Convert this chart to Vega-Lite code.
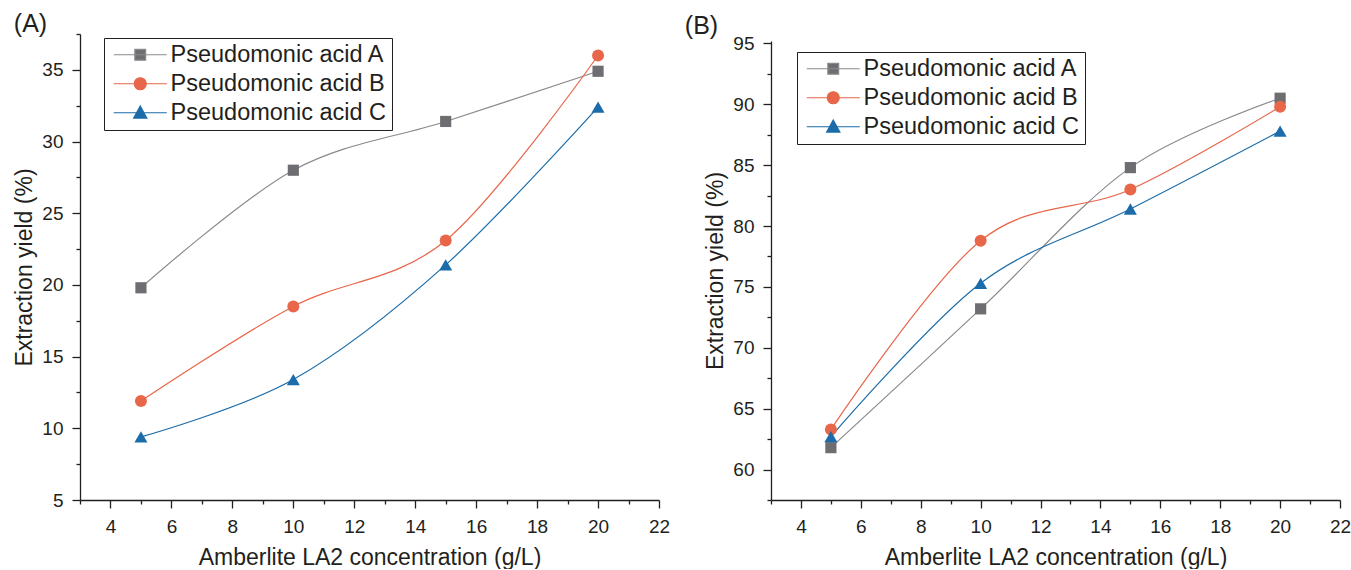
{
  "$schema": "https://vega.github.io/schema/vega-lite/v6.json",
  "background": "white",
  "padding": {"left": 13, "top": 12, "right": 0, "bottom": 0},
  "spacing": 14,
  "config": {
    "view": {"stroke": null},
    "font": "Liberation Sans",
    "axis": {
      "grid": false,
      "domainColor": "#231f20",
      "tickColor": "#231f20",
      "labelColor": "#231f20",
      "titleColor": "#231f20",
      "domainWidth": 1.3,
      "tickWidth": 1.3,
      "labelFont": "Liberation Sans",
      "titleFont": "Liberation Sans",
      "labelFontSize": 19,
      "titleFontSize": 23,
      "titleFontWeight": "normal",
      "labelOverlap": false,
      "labelFlush": false,
      "labelBound": false
    }
  },
  "datasets": {
    "panelA": [
      {"series": "Pseudomonic acid A", "conc": 5, "yield": 19.8},
      {"series": "Pseudomonic acid A", "conc": 10, "yield": 28.0},
      {"series": "Pseudomonic acid A", "conc": 15, "yield": 31.4},
      {"series": "Pseudomonic acid A", "conc": 20, "yield": 34.9},
      {"series": "Pseudomonic acid B", "conc": 5, "yield": 11.9},
      {"series": "Pseudomonic acid B", "conc": 10, "yield": 18.5},
      {"series": "Pseudomonic acid B", "conc": 15, "yield": 23.1},
      {"series": "Pseudomonic acid B", "conc": 20, "yield": 36.0},
      {"series": "Pseudomonic acid C", "conc": 5, "yield": 9.4},
      {"series": "Pseudomonic acid C", "conc": 10, "yield": 13.4},
      {"series": "Pseudomonic acid C", "conc": 15, "yield": 21.4},
      {"series": "Pseudomonic acid C", "conc": 20, "yield": 32.4}
    ],
    "panelB": [
      {"series": "Pseudomonic acid A", "conc": 5, "yield": 61.8},
      {"series": "Pseudomonic acid A", "conc": 10, "yield": 73.2},
      {"series": "Pseudomonic acid A", "conc": 15, "yield": 84.8},
      {"series": "Pseudomonic acid A", "conc": 20, "yield": 90.5},
      {"series": "Pseudomonic acid B", "conc": 5, "yield": 63.3},
      {"series": "Pseudomonic acid B", "conc": 10, "yield": 78.8},
      {"series": "Pseudomonic acid B", "conc": 15, "yield": 83.0},
      {"series": "Pseudomonic acid B", "conc": 20, "yield": 89.8},
      {"series": "Pseudomonic acid C", "conc": 5, "yield": 62.7},
      {"series": "Pseudomonic acid C", "conc": 10, "yield": 75.3},
      {"series": "Pseudomonic acid C", "conc": 15, "yield": 81.4},
      {"series": "Pseudomonic acid C", "conc": 20, "yield": 87.8}
    ]
  },
  "resolve": {
    "scale": {"x": "independent", "y": "independent", "fill": "independent", "stroke": "independent", "shape": "independent"},
    "legend": {"fill": "independent", "stroke": "independent", "shape": "independent"}
  },
  "hconcat": [
    {
      "title": {"text": "(A)", "anchor": "start", "frame": "bounds", "fontSize": 25, "fontWeight": "normal", "font": "Liberation Sans", "color": "#231f20", "dy": 16},
      "width": 579,
      "height": 466,
      "data": {"name": "panelA"},
      "encoding": {
        "x": {
          "field": "conc", "type": "quantitative",
          "scale": {"domain": [3, 22], "nice": false, "zero": false},
          "axis": {
            "title": "Amberlite LA2 concentration (g/L)",
            "titlePadding": 10,
            "values": [3, 4, 5, 6, 7, 8, 9, 10, 11, 12, 13, 14, 15, 16, 17, 18, 19, 20, 21, 22],
            "format": "d",
            "labelExpr": "datum.value % 2 === 0 ? datum.label : ''",
            "tickSize": {"condition": {"test": "datum.value % 2 === 0", "value": 8}, "value": 4},
            "labelPadding": 9
          }
        },
        "y": {
          "field": "yield", "type": "quantitative",
          "scale": {"domain": [5, 37.5], "nice": false, "zero": false},
          "axis": {
            "title": "Extraction yield (%)",
            "titlePadding": 5,
            "values": [5, 7.5, 10, 12.5, 15, 17.5, 20, 22.5, 25, 27.5, 30, 32.5, 35, 37.5],
            "format": "d",
            "labelExpr": "datum.value % 5 === 0 ? datum.label : ''",
            "tickSize": {"condition": {"test": "datum.value % 5 === 0", "value": 8}, "value": 4},
            "labelPadding": 9
          }
        }
      },
      "layer": [
        {
          "transform": [{"filter": "false"}],
          "mark": {"type": "point", "filled": true, "opacity": 1, "strokeWidth": 1.2},
          "encoding": {
            "fill": {
              "field": "series", "type": "nominal",
              "scale": {"domain": ["Pseudomonic acid A", "Pseudomonic acid B", "Pseudomonic acid C"], "range": ["#6e6e72", "#e8664a", "#1b6ca8"]},
              "legend": {"title": null, "orient": "none", "legendX": 24, "legendY": 4, "strokeColor": "#231f20", "fillColor": "white", "padding": 5, "symbolSize": 144, "symbolStrokeWidth": 1.2, "symbolOpacity": 1, "labelOffset": 38, "labelFontSize": 23.5, "labelFont": "Liberation Sans", "labelColor": "#231f20", "labelLimit": 0, "rowPadding": 4}
            },
            "stroke": {
              "field": "series", "type": "nominal",
              "scale": {"domain": ["Pseudomonic acid A", "Pseudomonic acid B", "Pseudomonic acid C"], "range": ["#8a8a8d", "#e8664a", "#1b6ca8"]},
              "legend": {"title": null, "orient": "none", "legendX": 24, "legendY": 4, "strokeColor": "#231f20", "fillColor": "white", "padding": 5, "symbolSize": 144, "symbolStrokeWidth": 1.2, "symbolOpacity": 1, "labelOffset": 38, "labelFontSize": 23.5, "labelFont": "Liberation Sans", "labelColor": "#231f20", "labelLimit": 0, "rowPadding": 4}
            },
            "shape": {
              "field": "series", "type": "nominal",
              "scale": {"domain": ["Pseudomonic acid A", "Pseudomonic acid B", "Pseudomonic acid C"], "range": ["M-1.17,0H7.67M2.35,-0.9H4.15V0.9H2.35Z", "M-1.17,0H7.67M2.25,0A1,1,0,1,0,4.25,0A1,1,0,1,0,2.25,0Z", "M-1.17,0H7.67M3.25,-1.12L4.35,0.88L2.15,0.88Z"]},
              "legend": {"title": null, "orient": "none", "legendX": 24, "legendY": 4, "strokeColor": "#231f20", "fillColor": "white", "padding": 5, "symbolSize": 144, "symbolStrokeWidth": 1.2, "symbolOpacity": 1, "labelOffset": 38, "labelFontSize": 23.5, "labelFont": "Liberation Sans", "labelColor": "#231f20", "labelLimit": 0, "rowPadding": 4}
            }
          }
        },
        {
          "transform": [{"filter": "datum.series === 'Pseudomonic acid A'"}],
          "mark": {"type": "line", "interpolate": "cardinal", "tension": 0, "strokeWidth": 1.2, "color": "#8a8a8d"},
          "encoding": {}
        },
        {
          "transform": [{"filter": "datum.series === 'Pseudomonic acid B'"}],
          "mark": {"type": "line", "interpolate": "cardinal", "tension": 0, "strokeWidth": 1.2, "color": "#e8664a"},
          "encoding": {}
        },
        {
          "transform": [{"filter": "datum.series === 'Pseudomonic acid C'"}],
          "mark": {"type": "line", "interpolate": "cardinal", "tension": 0, "strokeWidth": 1.2, "color": "#1b6ca8"},
          "encoding": {}
        },
        {
          "transform": [{"filter": "datum.series === 'Pseudomonic acid A'"}],
          "mark": {"type": "point", "shape": "square", "filled": true, "opacity": 1, "size": 125, "color": "#6e6e72"},
          "encoding": {}
        },
        {
          "transform": [{"filter": "datum.series === 'Pseudomonic acid B'"}],
          "mark": {"type": "point", "shape": "circle", "filled": true, "opacity": 1, "size": 144, "color": "#e8664a"},
          "encoding": {}
        },
        {
          "transform": [{"filter": "datum.series === 'Pseudomonic acid C'"}],
          "mark": {"type": "point", "shape": "triangle-up", "filled": true, "opacity": 1, "size": 170, "color": "#1b6ca8"},
          "encoding": {}
        }
      ]
    },
    {
      "title": {"text": "(B)", "anchor": "start", "frame": "bounds", "fontSize": 25, "fontWeight": "normal", "font": "Liberation Sans", "color": "#231f20", "dy": 9, "dx": -20},
      "width": 569,
      "height": 466,
      "data": {"name": "panelB"},
      "encoding": {
        "x": {
          "field": "conc", "type": "quantitative",
          "scale": {"domain": [3, 22], "nice": false, "zero": false},
          "axis": {
            "title": "Amberlite LA2 concentration (g/L)",
            "titlePadding": 10,
            "values": [3, 4, 5, 6, 7, 8, 9, 10, 11, 12, 13, 14, 15, 16, 17, 18, 19, 20, 21, 22],
            "format": "d",
            "labelExpr": "datum.value % 2 === 0 ? datum.label : ''",
            "tickSize": {"condition": {"test": "datum.value % 2 === 0", "value": 8}, "value": 4},
            "labelPadding": 9
          }
        },
        "y": {
          "field": "yield", "type": "quantitative",
          "scale": {"domain": [57.5, 95.2], "range": [466, 7], "nice": false, "zero": false},
          "axis": {
            "title": "Extraction yield (%)",
            "titlePadding": 5,
            "values": [57.5, 60, 62.5, 65, 67.5, 70, 72.5, 75, 77.5, 80, 82.5, 85, 87.5, 90, 92.5, 95],
            "format": "d",
            "labelExpr": "datum.value % 5 === 0 ? datum.label : ''",
            "tickSize": {"condition": {"test": "datum.value % 5 === 0", "value": 8}, "value": 4},
            "labelPadding": 9
          }
        }
      },
      "layer": [
        {
          "transform": [{"filter": "false"}],
          "mark": {"type": "point", "filled": true, "opacity": 1, "strokeWidth": 1.2},
          "encoding": {
            "fill": {
              "field": "series", "type": "nominal",
              "scale": {"domain": ["Pseudomonic acid A", "Pseudomonic acid B", "Pseudomonic acid C"], "range": ["#6e6e72", "#e8664a", "#1b6ca8"]},
              "legend": {"title": null, "orient": "none", "legendX": 26, "legendY": 18, "strokeColor": "#231f20", "fillColor": "white", "padding": 5, "symbolSize": 144, "symbolStrokeWidth": 1.2, "symbolOpacity": 1, "labelOffset": 38, "labelFontSize": 23.5, "labelFont": "Liberation Sans", "labelColor": "#231f20", "labelLimit": 0, "rowPadding": 4}
            },
            "stroke": {
              "field": "series", "type": "nominal",
              "scale": {"domain": ["Pseudomonic acid A", "Pseudomonic acid B", "Pseudomonic acid C"], "range": ["#8a8a8d", "#e8664a", "#1b6ca8"]},
              "legend": {"title": null, "orient": "none", "legendX": 26, "legendY": 18, "strokeColor": "#231f20", "fillColor": "white", "padding": 5, "symbolSize": 144, "symbolStrokeWidth": 1.2, "symbolOpacity": 1, "labelOffset": 38, "labelFontSize": 23.5, "labelFont": "Liberation Sans", "labelColor": "#231f20", "labelLimit": 0, "rowPadding": 4}
            },
            "shape": {
              "field": "series", "type": "nominal",
              "scale": {"domain": ["Pseudomonic acid A", "Pseudomonic acid B", "Pseudomonic acid C"], "range": ["M-1.17,0H7.67M2.35,-0.9H4.15V0.9H2.35Z", "M-1.17,0H7.67M2.25,0A1,1,0,1,0,4.25,0A1,1,0,1,0,2.25,0Z", "M-1.17,0H7.67M3.25,-1.12L4.35,0.88L2.15,0.88Z"]},
              "legend": {"title": null, "orient": "none", "legendX": 26, "legendY": 18, "strokeColor": "#231f20", "fillColor": "white", "padding": 5, "symbolSize": 144, "symbolStrokeWidth": 1.2, "symbolOpacity": 1, "labelOffset": 38, "labelFontSize": 23.5, "labelFont": "Liberation Sans", "labelColor": "#231f20", "labelLimit": 0, "rowPadding": 4}
            }
          }
        },
        {
          "transform": [{"filter": "datum.series === 'Pseudomonic acid A'"}],
          "mark": {"type": "line", "interpolate": "cardinal", "tension": 0, "strokeWidth": 1.2, "color": "#8a8a8d"},
          "encoding": {}
        },
        {
          "transform": [{"filter": "datum.series === 'Pseudomonic acid B'"}],
          "mark": {"type": "line", "interpolate": "cardinal", "tension": 0, "strokeWidth": 1.2, "color": "#e8664a"},
          "encoding": {}
        },
        {
          "transform": [{"filter": "datum.series === 'Pseudomonic acid C'"}],
          "mark": {"type": "line", "interpolate": "cardinal", "tension": 0, "strokeWidth": 1.2, "color": "#1b6ca8"},
          "encoding": {}
        },
        {
          "transform": [{"filter": "datum.series === 'Pseudomonic acid A'"}],
          "mark": {"type": "point", "shape": "square", "filled": true, "opacity": 1, "size": 125, "color": "#6e6e72"},
          "encoding": {}
        },
        {
          "transform": [{"filter": "datum.series === 'Pseudomonic acid B'"}],
          "mark": {"type": "point", "shape": "circle", "filled": true, "opacity": 1, "size": 144, "color": "#e8664a"},
          "encoding": {}
        },
        {
          "transform": [{"filter": "datum.series === 'Pseudomonic acid C'"}],
          "mark": {"type": "point", "shape": "triangle-up", "filled": true, "opacity": 1, "size": 170, "color": "#1b6ca8"},
          "encoding": {}
        }
      ]
    }
  ]
}
